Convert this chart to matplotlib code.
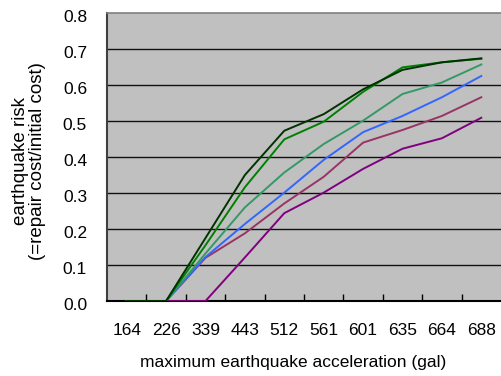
import matplotlib
matplotlib.use("Agg")
import matplotlib.pyplot as plt
from matplotlib.ticker import FixedLocator
from matplotlib.transforms import ScaledTranslation

plt.rcParams['font.family'] = ['Liberation Sans', 'DejaVu Sans']

categories = ["164", "226", "339", "443", "512", "561", "601", "635", "664", "688"]
series_dark = [0, 0, 0.175, 0.350, 0.473, 0.519, 0.588, 0.642, 0.663, 0.674]
series_green = [0, 0, 0.155, 0.316, 0.449, 0.498, 0.581, 0.649, 0.663, 0.673]
series_teal = [0, 0, 0.132, 0.260, 0.357, 0.436, 0.501, 0.575, 0.607, 0.657]
series_blue = [0, 0, 0.122, 0.214, 0.301, 0.392, 0.469, 0.514, 0.566, 0.625]
series_maroon = [0, 0, 0.120, 0.188, 0.271, 0.345, 0.440, 0.475, 0.514, 0.566]
series_purple = [0, 0, 0, 0.121, 0.244, 0.301, 0.367, 0.423, 0.452, 0.509]

yticks = [0.0, 0.1, 0.2, 0.3, 0.4, 0.5, 0.6, 0.7, 0.8]

fig = plt.figure(figsize=(5.01, 3.76), dpi=100)
ax = fig.add_axes([107/501, 75/376, 394/501, 288/376])
ax.set_facecolor('#C0C0C0')

x = list(range(len(categories)))
for ys, c in [(series_dark, '#003300'), (series_green, '#008000'),
              (series_teal, '#339966'), (series_blue, '#3366FF'),
              (series_maroon, '#993366'), (series_purple, '#800080')][::-1]:
    ax.plot(x, ys, color=c, lw=1.4, zorder=3)

ax.set_xlim(-0.5, len(categories) - 0.5)
ax.set_ylim(0, 0.8)
ax.set_yticks(yticks)
ax.set_yticklabels([f"{v:.1f}" for v in yticks])
ax.set_xticks(x)
ax.set_xticklabels(categories)
ax.xaxis.set_minor_locator(FixedLocator([i + 0.5 for i in range(len(categories) - 1)]))
ax.tick_params(axis='x', which='major', length=0, pad=15.5, labelsize=12.5)
ax.tick_params(axis='x', which='minor', length=5, direction='in', color='black', width=1)
ax.tick_params(axis='y', which='major', length=0, pad=14.4, labelsize=12.5)
offset = ScaledTranslation(0, -3/100, fig.dpi_scale_trans)
for lbl in ax.get_yticklabels():
    lbl.set_transform(lbl.get_transform() + offset)

for v in yticks[1:-1]:
    ax.axhline(v, color='#111111', lw=1.0, zorder=1)

ax.spines['right'].set_visible(False)
ax.spines['top'].set_color('#808080')
ax.spines['top'].set_linewidth(1.2)
ax.spines['left'].set_color('#404040')
ax.spines['left'].set_linewidth(1.5)
ax.spines['bottom'].set_color('black')
ax.spines['bottom'].set_linewidth(1.5)

ax.set_xlabel("maximum earthquake acceleration (gal)", fontsize=12.5)
ax.xaxis.set_label_coords(186/394, -61/288)
ax.xaxis.label.set_va('center')
ax.set_ylabel("earthquake risk\n(=repair cost/initial cost)", fontsize=13.5,
              linespacing=1.05)
ax.yaxis.set_label_coords(-78/394, 140/288)
ax.yaxis.label.set_va('center')

fig.savefig("out.png", dpi=100)
